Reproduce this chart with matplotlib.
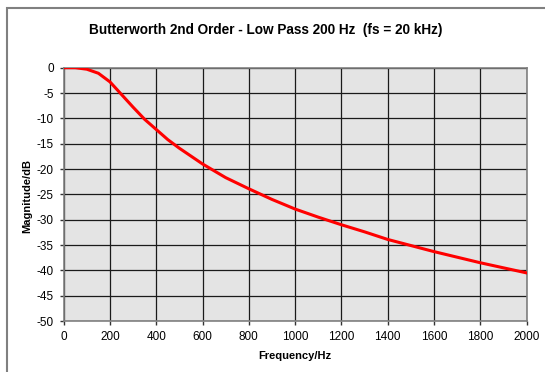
import matplotlib.pyplot as plt
from matplotlib.patches import Rectangle

plt.rcParams['font.family'] = ['Liberation Sans', 'DejaVu Sans']
plt.rcParams['axes.unicode_minus'] = False

# magnitude response of the 2nd order low pass, read at these frequencies
freq_hz = [0, 50, 100, 150, 200, 250, 300, 350, 400, 450, 500, 600, 700, 800,
           900, 1000, 1100, 1200, 1300, 1400, 1500, 1600, 1700, 1800, 1900, 2000]
mag_db = [0.0, 0.0, -0.3, -1.1, -2.8, -5.3, -7.8, -10.2, -12.2, -14.2, -15.9,
          -19.0, -21.7, -23.9, -26.0, -27.9, -29.5, -31.0, -32.4, -33.9,
          -35.1, -36.3, -37.4, -38.5, -39.5, -40.5]
x_ticks = list(range(0, 2001, 200))
y_ticks = list(range(-50, 1, 5))

fig = plt.figure(figsize=(5.45, 3.72), dpi=100)
fig.patch.set_facecolor('white')

# chart frame
fig.patches.append(Rectangle((7 / 545, -0.1), 1.2, 1 - 8 / 372 + 0.1,
                             transform=fig.transFigure, fill=False,
                             edgecolor='#808080', linewidth=1.5))

ax = fig.add_axes([63.7 / 545, 1 - 321 / 372, (526.5 - 63.7) / 545, (321 - 67.7) / 372])
ax.set_facecolor('#e4e4e4')
ax.plot(freq_hz, mag_db, color='#ff0000', linewidth=2.2, zorder=3)

ax.set_xlim(0, 2000)
ax.set_ylim(-50, 0)
ax.set_xticks(x_ticks)
ax.set_yticks(y_ticks)
ax.grid(True, color='#1a1a1a', linewidth=0.9)
ax.set_axisbelow(True)
for s in ax.spines.values():
    s.set_color('#808080')
    s.set_linewidth(1.2)
ax.tick_params(axis='both', length=3, width=1, color='#333333',
               labelsize=8.5, pad=4)

fig.text(266 / 545, 1 - 30 / 372, 'Butterworth 2nd Order - Low Pass 200 Hz  (fs = 20 kHz)',
         ha='center', va='center', fontsize=9.8, fontweight='bold')
fig.text(295 / 545, 1 - 356 / 372, 'Frequency/Hz', ha='center', va='center',
         fontsize=8, fontweight='bold')
fig.text(27 / 545, 1 - 196 / 372, 'Magnitude/dB', ha='center', va='center',
         rotation=90, fontsize=8, fontweight='bold')

fig.savefig('out.png', dpi=100)
